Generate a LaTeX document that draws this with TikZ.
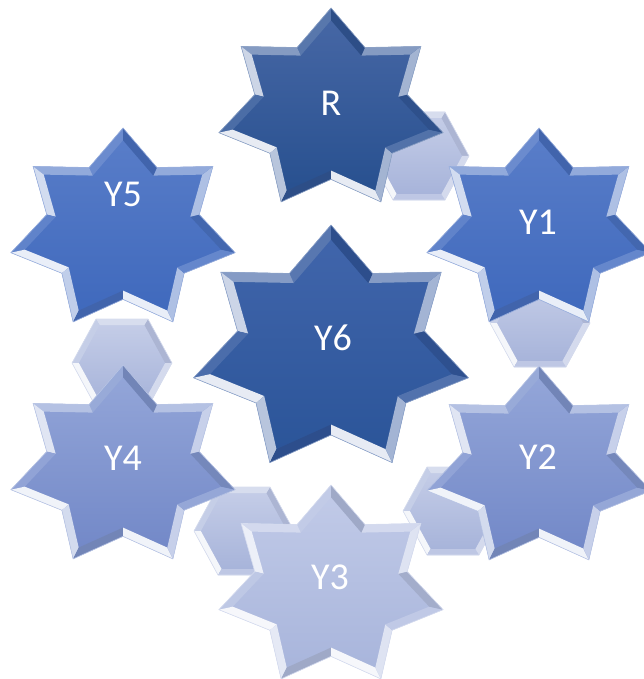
\documentclass[tikz,border=0pt]{standalone}
\usepackage{fontspec}
\setmainfont{Carlito}
\usetikzlibrary{calc}
\definecolor{Rtop}{HTML}{4868A6}\definecolor{Rbot}{HTML}{264F8E}\definecolor{Rbase}{HTML}{33599A}
\definecolor{Ssix}{HTML}{4266AC}\definecolor{Bsix}{HTML}{2A5498}\definecolor{Csix}{HTML}{33599F}
\definecolor{Mtop}{HTML}{5A7EC9}\definecolor{Mbot}{HTML}{3E68BC}\definecolor{Mbase}{HTML}{4A72C3}
\definecolor{Ltop}{HTML}{95A7D9}\definecolor{Lbot}{HTML}{7187C7}\definecolor{Lbase}{HTML}{8297D0}
\definecolor{Ptop}{HTML}{C2CBE8}\definecolor{Pbot}{HTML}{A7B4DB}\definecolor{Pbase}{HTML}{B5C0E2}
\definecolor{Htop}{HTML}{C6CEE8}\definecolor{Hbot}{HTML}{A5B2D9}\definecolor{Hbase}{HTML}{B7C1E1}
\def\staredges{0/white!18,1/white!40,2/white!75,3/white!12,4/white!88,5/white!65,6/black!12,7/white!88,8/white!55,9/white!15,10/black!10,11/white!55,12/white!40,13/black!12}
\def\hexedges{0/black!6,1/white!45,2/white!20,3/white!85,4/white!10,5/white!40}
% #1 name, #2 n, #3 bevel width, #4 top, #5 bottom, #6 base, #7 edge list
\newcommand\bevelpoly[7]{%
  \pgfmathtruncatemacro\bpN{#2-1}%
  \foreach \k in {0,...,\bpN}{%
    \pgfmathtruncatemacro\nx{mod(\k+1,#2)}%
    \pgfmathtruncatemacro\pv{mod(\k+#2-1,#2)}%
    \path let \p1=(#1v\pv), \p2=(#1v\k), \p3=(#1v\nx),
      \n1={veclen(\x2-\x1,\y2-\y1)}, \n2={veclen(\x3-\x2,\y3-\y2)},
      \n3={-(\y2-\y1)/\n1}, \n4={(\x2-\x1)/\n1},
      \n5={-(\y3-\y2)/\n2}, \n6={(\x3-\x2)/\n2},
      \n7={1+\n3*\n5+\n4*\n6}
      in coordinate (#1q\k) at ({\x2+#3*(\n3+\n5)/\n7},{\y2+#3*(\n4+\n6)/\n7});
  }%
  \shade[top color=#4,bottom color=#5] (#1v0) \foreach \k in {1,...,\bpN}{ -- (#1v\k) } -- cycle;
  \foreach \k/\m in #7 {%
    \pgfmathtruncatemacro\nx{mod(\k+1,#2)}%
    \colorlet{bpc}{\m!#6}%
    \fill[bpc] (#1v\k) -- (#1v\nx) -- (#1q\nx) -- (#1q\k) -- cycle;
  }%
  \draw[line width=0.6pt,#6!55!white] (#1v0) \foreach \k in {1,...,\bpN}{ -- (#1v\k) } -- cycle;
}
% star vertices: #1 name, #2 cx, #3 cy, #4 rx, #5 ry
\newcommand\mkstar[5]{%
  \foreach \k in {0,...,13}{%
    \pgfmathsetmacro\ang{90+360/14*\k}%
    \pgfmathsetmacro\rf{mod(\k,2)==0 ? 1 : 0.68}%
    \coordinate (#1v\k) at ({#2+\rf*#4*cos(\ang)},{#3-\rf*#5*sin(\ang)});
  }%
}
% hexagon vertices: #1 name, #2 cx, #3 cy
\newcommand\mkhex[3]{%
  \coordinate (#1v0) at ({#2+50},{#3});
  \coordinate (#1v1) at ({#2+26},{#3-44});
  \coordinate (#1v2) at ({#2-26},{#3-44});
  \coordinate (#1v3) at ({#2-50},{#3});
  \coordinate (#1v4) at ({#2-26},{#3+44});
  \coordinate (#1v5) at ({#2+26},{#3+44});
}
\tikzset{lbl/.style={text=white,font=\fontsize{38}{40}\selectfont,inner sep=0pt}}
\begin{document}
\begin{tikzpicture}[x=1pt,y=-1pt]
\useasboundingbox (0,0) rectangle (643,679);
% connector hexagons
\mkhex{HA}{419}{156}\bevelpoly{HA}{6}{6pt}{Htop}{Hbot}{Hbase}{\hexedges}
\mkhex{HB}{540}{323}\bevelpoly{HB}{6}{6pt}{Htop}{Hbot}{Hbase}{\hexedges}
\mkhex{HC}{453}{511}\bevelpoly{HC}{6}{6pt}{Htop}{Hbot}{Hbase}{\hexedges}
\mkhex{HD}{244}{531}\bevelpoly{HD}{6}{6pt}{Htop}{Hbot}{Hbase}{\hexedges}
\mkhex{HE}{122}{363}\bevelpoly{HE}{6}{6pt}{Htop}{Hbot}{Hbase}{\hexedges}
% stars
\mkstar{SR}{331}{110}{115}{102}\bevelpoly{SR}{14}{8pt}{Rtop}{Rbot}{Rbase}{\staredges}
\mkstar{SY}{539}{230}{115}{102}\bevelpoly{SY}{14}{8pt}{Mtop}{Mbot}{Mbase}{\staredges}
\mkstar{SZ}{123}{230}{115}{102}\bevelpoly{SZ}{14}{8pt}{Mtop}{Mbot}{Mbase}{\staredges}
\mkstar{SW}{539}{468}{115}{102}\bevelpoly{SW}{14}{8pt}{Ltop}{Lbot}{Lbase}{\staredges}
\mkstar{SX}{123}{467}{115}{102}\bevelpoly{SX}{14}{8pt}{Ltop}{Lbot}{Lbase}{\staredges}
\mkstar{SV}{331}{587}{115}{102}\bevelpoly{SV}{14}{8pt}{Ptop}{Pbot}{Pbase}{\staredges}
\mkstar{SU}{331}{350}{141}{125}\bevelpoly{SU}{14}{9.5pt}{Ssix}{Bsix}{Csix}{\staredges}
% labels
\node[lbl] (R) at (331,103) {R};
\node[lbl] (Y1) at (538,222) {Y1};
\node[lbl] (Y2) at (538,457) {Y2};
\node[lbl] (Y3) at (330,577) {Y3};
\node[lbl] (Y4) at (123,458) {Y4};
\node[lbl] (Y5) at (123,194) {Y5};
\node[lbl] (Y6) at (333,338) {Y6};
\end{tikzpicture}
\end{document}
